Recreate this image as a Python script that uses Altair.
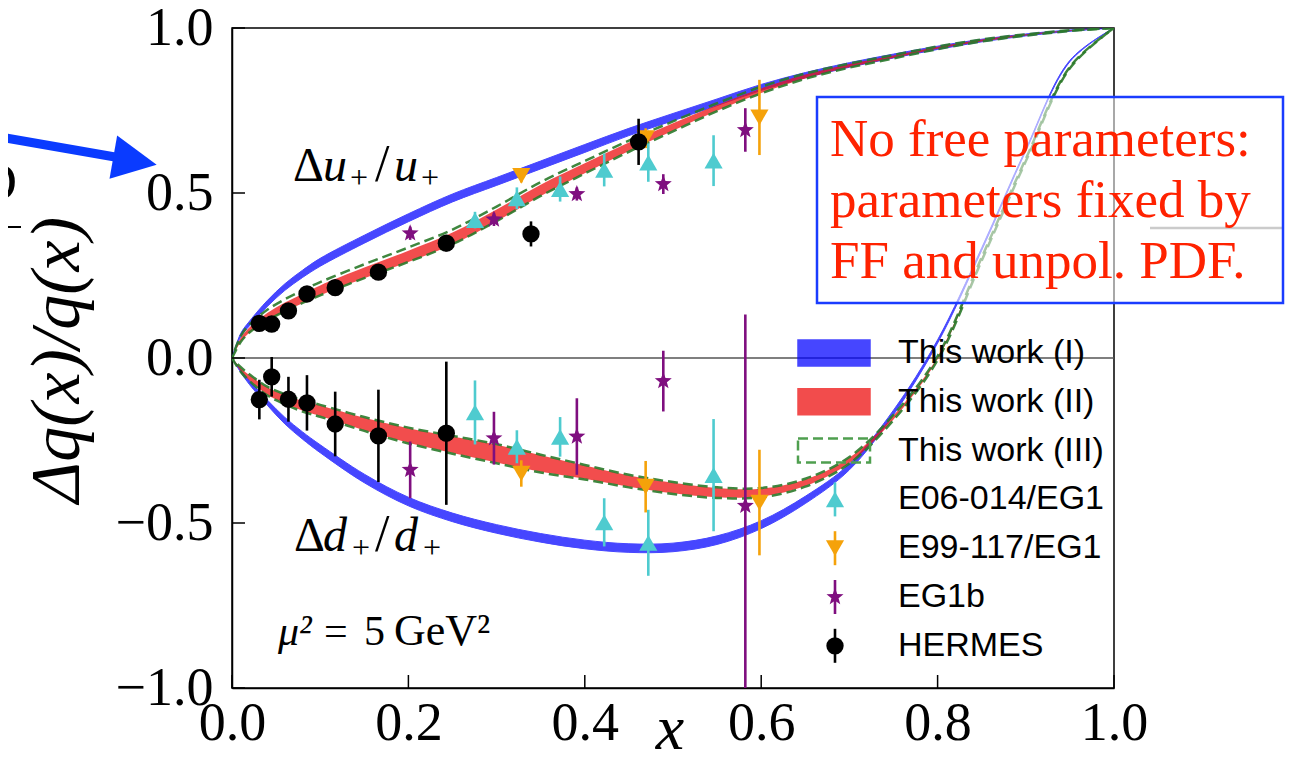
import math
import altair as alt
import pandas as pd

# ---------------- data ----------------
X_GRID = [0.0, 0.01, 0.02, 0.04, 0.06, 0.08, 0.10, 0.15, 0.20, 0.25, 0.30, 0.35, 0.40,
          0.45, 0.50, 0.55, 0.60, 0.65, 0.70, 0.75, 0.80, 0.85, 0.90, 0.95, 1.00]

# Delta u+ / u+
BAND_I_U = [0, 0.07, 0.105, 0.165, 0.215, 0.255, 0.29, 0.36, 0.425, 0.485, 0.535, 0.585, 0.635,
            0.685, 0.73, 0.775, 0.82, 0.857, 0.888, 0.915, 0.94, 0.962, 0.979, 0.992, 1.0]
HALF_I_U = [0, 0.005, 0.007, 0.009, 0.010, 0.011, 0.012, 0.012, 0.012, 0.012, 0.012, 0.012, 0.012,
            0.011, 0.011, 0.010, 0.009, 0.008, 0.007, 0.006, 0.005, 0.004, 0.003, 0.002, 0]
BAND_II_U = [0, 0.055, 0.085, 0.125, 0.155, 0.18, 0.205, 0.258, 0.308, 0.362, 0.432, 0.508, 0.575,
             0.64, 0.70, 0.758, 0.81, 0.853, 0.886, 0.913, 0.94, 0.962, 0.979, 0.992, 1.0]
HALF_II_U = [0, 0.006, 0.008, 0.011, 0.013, 0.014, 0.015, 0.016, 0.017, 0.018, 0.018, 0.017, 0.015,
             0.013, 0.011, 0.009, 0.007, 0.006, 0.005, 0.004, 0.003, 0.003, 0.002, 0.001, 0]
BAND_III_U = [0, 0.058, 0.09, 0.13, 0.16, 0.186, 0.21, 0.263, 0.313, 0.367, 0.437, 0.512, 0.578,
              0.642, 0.702, 0.76, 0.812, 0.854, 0.886, 0.913, 0.94, 0.962, 0.979, 0.992, 1.0]
HALF_III_U = [0, 0.009, 0.012, 0.016, 0.018, 0.019, 0.020, 0.021, 0.022, 0.022, 0.022, 0.021, 0.019,
              0.017, 0.015, 0.012, 0.010, 0.008, 0.006, 0.005, 0.004, 0.003, 0.002, 0.001, 0]

# Delta d+ / d+
BAND_I_D = [0, -0.04, -0.075, -0.135, -0.19, -0.235, -0.275, -0.365, -0.435, -0.483, -0.518, -0.545, -0.565,
            -0.576, -0.574, -0.552, -0.505, -0.43, -0.33, -0.165, 0.05, 0.33, 0.63, 0.90, 1.0]
HALF_I_D = [0, 0.004, 0.006, 0.008, 0.010, 0.011, 0.012, 0.013, 0.013, 0.013, 0.013, 0.013, 0.013,
            0.013, 0.013, 0.013, 0.012, 0.011, 0.009, 0.007, 0.005, 0.004, 0.003, 0.002, 0]
BAND_II_D = [0, -0.035, -0.06, -0.10, -0.125, -0.145, -0.16, -0.20, -0.235, -0.263, -0.29, -0.32, -0.346,
             -0.373, -0.394, -0.408, -0.408, -0.378, -0.31, -0.18, 0.0, 0.30, 0.60, 0.88, 1.0]
HALF_II_D = [0, 0.005, 0.008, 0.011, 0.013, 0.015, 0.016, 0.019, 0.022, 0.025, 0.027, 0.025, 0.020,
             0.017, 0.016, 0.014, 0.012, 0.010, 0.008, 0.006, 0.004, 0.003, 0.002, 0.001, 0]
BAND_III_D = BAND_II_D
HALF_III_D = [0, 0.007, 0.010, 0.013, 0.015, 0.017, 0.018, 0.021, 0.024, 0.027, 0.029, 0.027, 0.022,
              0.019, 0.018, 0.016, 0.014, 0.012, 0.010, 0.008, 0.006, 0.005, 0.004, 0.002, 0]

# experimental points
E06_X = [0.2755, 0.323, 0.372, 0.422, 0.472, 0.546]
E06_U = [0.418, 0.484, 0.512, 0.570, 0.592, 0.598]
E06_U_ERR = [0.025, 0.033, 0.038, 0.050, 0.058, 0.077]
E06_D = [-0.165, -0.269, -0.239, -0.498, -0.560, -0.355]
E06_D_ERR = [0.097, 0.050, 0.060, 0.073, 0.100, 0.170]

E99_X = [0.328, 0.469, 0.598]
E99_U = [0.552, 0.666, 0.729]
E99_U_ERR = [0.02, 0.03, 0.114]
E99_D = [-0.350, -0.390, -0.438]
E99_D_ERR = [0.040, 0.078, 0.160]

EG1B_X = [0.202, 0.297, 0.391, 0.489, 0.582]
EG1B_U = [0.378, 0.420, 0.497, 0.527, 0.691]
EG1B_U_ERR = [0.02, 0.02, 0.02, 0.03, 0.066]
EG1B_D = [-0.339, -0.243, -0.238, -0.070, -0.448]
EG1B_D_ERR = [0.086, 0.080, 0.116, 0.092, 0.580]

HERMES_X_U = [0.031, 0.045, 0.064, 0.085, 0.117, 0.166, 0.243, 0.339, 0.461]
HERMES_U = [0.105, 0.103, 0.143, 0.194, 0.213, 0.260, 0.348, 0.376, 0.655]
HERMES_U_ERR = [0.02, 0.02, 0.02, 0.02, 0.02, 0.02, 0.025, 0.038, 0.070]
HERMES_X_D = [0.031, 0.045, 0.064, 0.085, 0.117, 0.166, 0.243]
HERMES_D = [-0.126, -0.057, -0.125, -0.136, -0.200, -0.236, -0.228]
HERMES_D_ERR = [0.060, 0.060, 0.068, 0.084, 0.098, 0.140, 0.217]

X_TICKS = [0.0, 0.2, 0.4, 0.6, 0.8, 1.0]
Y_TICKS = [-1.0, -0.5, 0.0, 0.5, 1.0]

LEGEND_LABELS = ["This work (I)", "This work (II)", "This work (III)",
                 "E06-014/EG1", "E99-117/EG1", "EG1b", "HERMES"]
BOX_LINES = ["No free parameters:", "parameters fixed by", "FF and unpol. PDF."]

# ---------------- styling ----------------
W, H = 882, 660
OX, OY = 232, 28          # page position of the plot origin
SERIF = "Liberation Serif"
SANS = "Liberation Sans"
BLUE = "#0000ff"
RED = "#ee1111"
GREEN = "#2a7a2a"
CYAN = "#4ecbcf"
ORANGE = "#f5a20a"
PURPLE = "#7f0f7f"
BLACK = "#000000"

xs = alt.Scale(domain=[0, 1], nice=False, zero=False)
ys = alt.Scale(domain=[-1, 1], nice=False, zero=False)
xaxis = alt.Axis(values=X_TICKS, format=".1f", title=None, ticks=False, tickSize=0, grid=False,
                 labelFont=SERIF, labelFontSize=54, labelColor="black", labelPadding=8,
                 labelBaseline="top", domainColor="black", domainWidth=1.5, labelFlush=False)
yaxis = alt.Axis(values=Y_TICKS, format=".1f", title=None, ticks=False, tickSize=0, grid=False,
                 labelFont=SERIF, labelFontSize=54, labelColor="black", labelPadding=19,
                 domainColor="black", domainWidth=1.5, labelFlush=False)


def X(field):
    return alt.X(field, type="quantitative", scale=xs, axis=xaxis)


def Y(field):
    return alt.Y(field, type="quantitative", scale=ys, axis=yaxis)


def band_frame(cu, hu, cd, hd):
    rows = []
    for kind, c, h in (("u", cu, hu), ("d", cd, hd)):
        for x, cc, hh in zip(X_GRID, c, h):
            rows.append({"x": x, "lo": cc - hh, "hi": cc + hh, "kind": kind})
    return pd.DataFrame(rows)


band1 = band_frame(BAND_I_U, HALF_I_U, BAND_I_D, HALF_I_D)
band2 = band_frame(BAND_II_U, HALF_II_U, BAND_II_D, HALF_II_D)
band3 = band_frame(BAND_III_U, HALF_III_U, BAND_III_D, HALF_III_D)


def points_frame(xu, yu, eu, xd, yd, ed):
    rows = []
    for x, y, e in zip(xu, yu, eu):
        rows.append({"x": x, "y": y, "lo": y - e, "hi": y + e})
    for x, y, e in zip(xd, yd, ed):
        rows.append({"x": x, "y": y, "lo": y - e, "hi": y + e})
    return pd.DataFrame(rows)


e06 = points_frame(E06_X, E06_U, E06_U_ERR, E06_X, E06_D, E06_D_ERR)
e99 = points_frame(E99_X, E99_U, E99_U_ERR, E99_X, E99_D, E99_D_ERR)
eg1b = points_frame(EG1B_X, EG1B_U, EG1B_U_ERR, EG1B_X, EG1B_D, EG1B_D_ERR)
hermes = points_frame(HERMES_X_U, HERMES_U, HERMES_U_ERR, HERMES_X_D, HERMES_D, HERMES_D_ERR)

# 5-pointed star path in [-1, 1] box
star_pts = []
for k in range(10):
    ang = math.radians(-90 + 36 * k)
    r = 1.0 if k % 2 == 0 else 0.42
    star_pts.append(f"{r * math.cos(ang):.3f},{r * math.sin(ang):.3f}")
STAR = "M" + "L".join(star_pts) + "Z"
ARROW_HEAD = "M-1,-1L1,0L-1,1Z"

layers = []
one = pd.DataFrame({"a": [0]})
INTERP = "catmull-rom"

# zero line
layers.append(alt.Chart(pd.DataFrame({"y": [0.0]})).mark_rule(color="#555555", strokeWidth=1.5)
              .encode(y=Y("y")))

# band I
layers.append(alt.Chart(band1).mark_area(interpolate=INTERP, color=BLUE, opacity=0.72,
                                         stroke=BLUE, strokeWidth=1, clip=True)
              .encode(x=X("x"), y=Y("lo"), y2="hi:Q", detail="kind:N"))
# band II
layers.append(alt.Chart(band2).mark_area(interpolate=INTERP, color=RED, opacity=0.75, clip=True)
              .encode(x=X("x"), y=Y("lo"), y2="hi:Q", detail="kind:N"))
# band III (dashed edges)
for edge, off in (("lo", 0), ("hi", 7)):
    layers.append(alt.Chart(band3).mark_line(interpolate=INTERP, color=GREEN, strokeWidth=2.5,
                                             strokeDash=[10, 5], strokeDashOffset=off, opacity=0.9,
                                             clip=True)
                  .encode(x=X("x"), y=Y(edge), detail="kind:N"))


def dataset(df, color, shape, size):
    err = alt.Chart(df).mark_rule(color=color, strokeWidth=2.6, clip=True).encode(
        x=X("x"), y=Y("lo"), y2="hi:Q")
    pts = alt.Chart(df).mark_point(shape=shape, filled=True, size=size, color=color, opacity=1,
                                   clip=True).encode(x=X("x"), y=Y("y"))
    return [err, pts]


layers += dataset(e06, CYAN, "triangle-up", 330)
layers += dataset(e99, ORANGE, "triangle-down", 330)
layers += dataset(eg1b, PURPLE, STAR, 320)
layers += dataset(hermes, BLACK, "circle", 300)

# inward ticks
layers.append(alt.Chart(pd.DataFrame({"t": X_TICKS})).mark_rule(color="black", strokeWidth=1.5)
              .encode(x=X("t"), y=alt.value(H), y2=alt.value(H - 13)))
layers.append(alt.Chart(pd.DataFrame({"t": Y_TICKS})).mark_rule(color="black", strokeWidth=1.5)
              .encode(y=Y("t"), x=alt.value(0), x2=alt.value(13)))


def text(s, x, y, size, font=SERIF, italic=False, align="center", baseline="alphabetic",
         color="black", angle=0, line_height=None):
    kw = dict(text=s, font=font, fontSize=size, align=align, baseline=baseline, color=color)
    if italic:
        kw["fontStyle"] = "italic"
    if angle:
        kw["angle"] = angle
    if line_height:
        kw["lineHeight"] = line_height
    return alt.Chart(one).mark_text(**kw).encode(x=alt.value(x), y=alt.value(y))


def piece(s, page_x, page_base, size, italic=False):
    return text(s, page_x - OX, page_base - OY, size, italic=italic, align="left")


# Δu+/u+   (page coordinates of the reference)
for s, px, dy, sz, it in (("Δ", 293, 0, 48, False), ("u", 323, 0, 48, True), ("+", 350, 7, 32, False),
                          ("/", 375, 0, 52, False), ("u", 394, 0, 48, True), ("+", 421, 7, 32, False)):
    layers.append(piece(s, px, 181 + dy, sz, it))
# Δd+/d+
for s, px, dy, sz, it in (("Δ", 294, 0, 48, False), ("d", 323, 0, 48, True), ("+", 352, 7, 32, False),
                          ("/", 375, 0, 52, False), ("d", 394, 0, 48, True), ("+", 423, 7, 32, False)):
    layers.append(piece(s, px, 551 + dy, sz, it))
# μ² = 5 GeV²
layers.append(piece("μ²", 278, 645, 42, True))
layers.append(piece("=", 324, 645, 42, False))
layers.append(piece("5", 364, 645, 42, False))
layers.append(piece("GeV²", 394, 645, 44, False))

layers.append(text("Δq(x)/q(x)", 58 - OX, 360 - OY, 70, italic=True, angle=270, baseline="middle"))
layers.append(text("x", 670 - OX, 749 - OY, 64, italic=True))

# legend
LEG_Y = [325, 373.8, 422.6, 471.4, 520.2, 569, 617.8]
layers.append(alt.Chart(one).mark_rect(color=BLUE, opacity=0.72, stroke=BLUE, strokeWidth=1.5)
              .encode(x=alt.value(566), x2=alt.value(638), y=alt.value(LEG_Y[0] - 13), y2=alt.value(LEG_Y[0] + 13)))
layers.append(alt.Chart(one).mark_rect(color=RED, opacity=0.75, stroke=RED, strokeWidth=1.5)
              .encode(x=alt.value(566), x2=alt.value(638), y=alt.value(LEG_Y[1] - 13), y2=alt.value(LEG_Y[1] + 13)))
layers.append(alt.Chart(one).mark_rect(fill=None, fillOpacity=0, stroke="#4f9f4f", strokeWidth=2.5,
                                       strokeDash=[10, 5])
              .encode(x=alt.value(566), x2=alt.value(638), y=alt.value(LEG_Y[2] - 12), y2=alt.value(LEG_Y[2] + 12)))
for i, (color, shape, size) in enumerate([(CYAN, "triangle-up", 330), (ORANGE, "triangle-down", 330),
                                          (PURPLE, STAR, 320), (BLACK, "circle", 300)]):
    yy = LEG_Y[3 + i]
    layers.append(alt.Chart(one).mark_rule(color=color, strokeWidth=2.6)
                  .encode(x=alt.value(603), y=alt.value(yy - 17), y2=alt.value(yy + 17)))
    layers.append(alt.Chart(one).mark_point(shape=shape, filled=True, size=size, color=color, opacity=1)
                  .encode(x=alt.value(603), y=alt.value(yy)))
for lab, yy in zip(LEGEND_LABELS, LEG_Y):
    layers.append(text(lab, 666, yy, 34, font=SANS, align="left", baseline="middle"))

# slide decorations: arrow, clipped glyph, gray line, annotation box
layers.append(alt.Chart(one).mark_rule(color="#0a3bff", strokeWidth=9)
              .encode(x=alt.value(-226), y=alt.value(110), x2=alt.value(-117), y2=alt.value(129)))
layers.append(alt.Chart(one).mark_point(shape=ARROW_HEAD, filled=True, size=1936, color="#0a3bff",
                                        opacity=1, angle=10)
              .encode(x=alt.value(-97), y=alt.value(133)))
layers.append(text("D", -215, 172, 54, align="right"))
layers.append(alt.Chart(one).mark_rule(color="black", strokeWidth=2)
              .encode(x=alt.value(-226), x2=alt.value(-211), y=alt.value(199), y2=alt.value(199)))
layers.append(alt.Chart(one).mark_rule(color="#8c8c8c", strokeWidth=2.5)
              .encode(x=alt.value(918), x2=alt.value(1052), y=alt.value(200), y2=alt.value(200)))
layers.append(alt.Chart(one).mark_rect(fill="white", fillOpacity=0.55, stroke="#1a3cff", strokeWidth=2.5)
              .encode(x=alt.value(585), x2=alt.value(1051), y=alt.value(69), y2=alt.value(275)))
layers.append(text("\n".join(BOX_LINES), 598, 128, 53, align="left", color="#ff2200",
                   line_height=61))

chart = alt.layer(*layers).properties(
    width=W, height=H,
    padding={"left": 224, "top": 20, "right": 171, "bottom": 70},
    autosize=alt.AutoSizeParams(type="none"),
    background="white",
).configure_view(stroke="black", strokeWidth=1.5).configure_text(lineBreak="\n")

chart.save("out.html", embed_options={"renderer": "svg", "actions": False})
